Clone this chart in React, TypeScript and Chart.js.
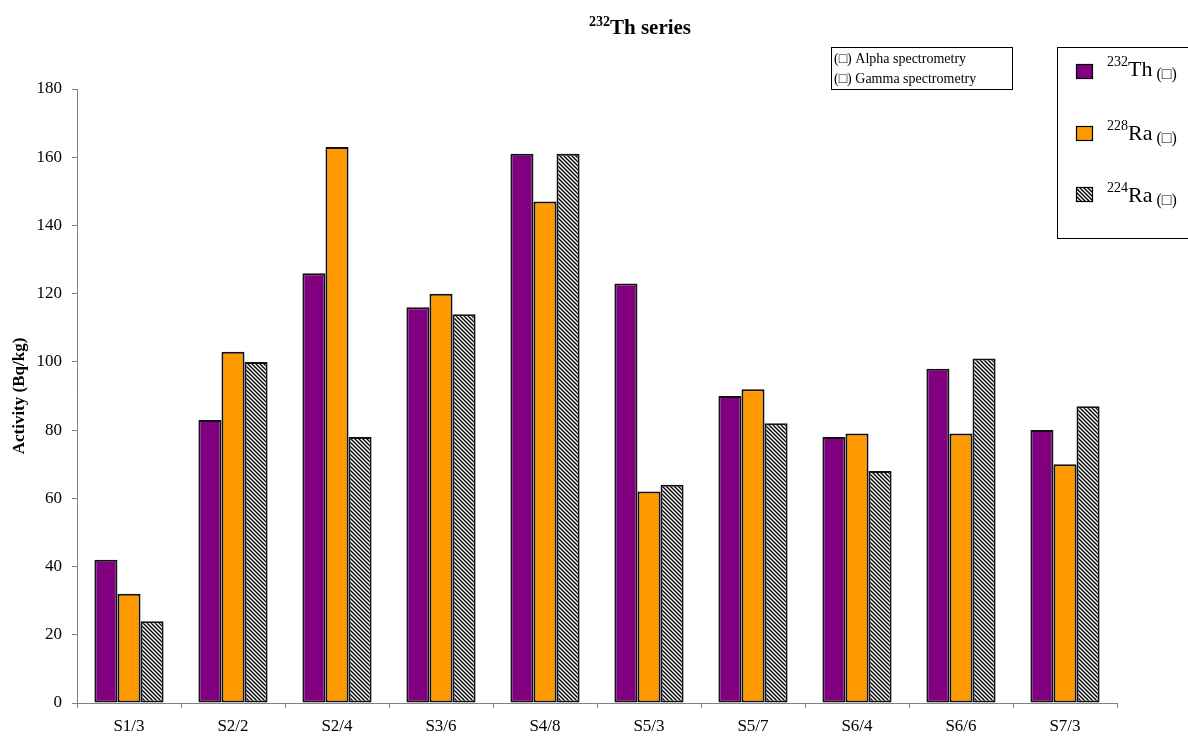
import React, { useEffect, useRef } from "react";
import { Chart, registerables } from "chart.js";

Chart.register(...registerables);

const categories = ["S1/3", "S2/2", "S2/4", "S3/6", "S4/8", "S5/3", "S5/7", "S6/4", "S6/6", "S7/3"];
const th232 = [42, 83, 126, 116, 161, 123, 90, 78, 98, 80];
const ra228 = [32, 103, 163, 120, 147, 62, 92, 79, 79, 70];
const ra224 = [24, 100, 78, 114, 161, 64, 82, 68, 101, 87];
const yTicks = [0, 20, 40, 60, 80, 100, 120, 140, 160, 180];

const SERIF = "'Liberation Serif', 'Times New Roman', serif";

function makePattern(): CanvasPattern | string {
  const c = document.createElement("canvas");
  c.width = 4;
  c.height = 4;
  const g = c.getContext("2d");
  if (!g) return "#777";
  g.fillStyle = "#ffffff";
  g.fillRect(0, 0, 4, 4);
  g.strokeStyle = "#000000";
  g.lineWidth = 1.4;
  g.beginPath();
  g.moveTo(-1, -1);
  g.lineTo(5, 5);
  g.moveTo(-1, 3);
  g.lineTo(1, 5);
  g.moveTo(3, -1);
  g.lineTo(5, 1);
  g.stroke();
  const p = g.createPattern(c, "repeat");
  return p || "#777";
}

export default function App() {
  const ref = useRef<HTMLCanvasElement>(null);
  useEffect(() => {
    if (!ref.current) return;
    const hatch = makePattern();
    const purple = "#800080";
    const orange = "#FF9900";

    const overlay = {
      id: "overlay",
      afterDraw(chart: any) {
        const ctx = chart.ctx as CanvasRenderingContext2D;
        ctx.save();
        // Title
        ctx.fillStyle = "#000";
        ctx.textBaseline = "alphabetic";
        ctx.textAlign = "left";
        const sup = "232";
        const main = "Th series";
        ctx.font = `bold 14px ${SERIF}`;
        const sw = ctx.measureText(sup).width;
        ctx.font = `bold 21px ${SERIF}`;
        const mw = ctx.measureText(main).width;
        const tx = 640 - (sw + mw) / 2;
        ctx.font = `bold 14px ${SERIF}`;
        ctx.fillText(sup, tx, 26);
        ctx.font = `bold 21px ${SERIF}`;
        ctx.fillText(main, tx + sw, 34);

        // Y axis title
        ctx.save();
        ctx.translate(20, 396);
        ctx.rotate(-Math.PI / 2);
        ctx.textAlign = "center";
        ctx.textBaseline = "middle";
        ctx.font = `bold 17px ${SERIF}`;
        ctx.fillText("Activity (Bq/kg)", 0, 0);
        ctx.restore();

        // Method legend box
        ctx.strokeStyle = "#000";
        ctx.lineWidth = 1;
        ctx.strokeRect(831.5, 47.5, 181, 42);
        ctx.font = `14px ${SERIF}`;
        ctx.textAlign = "left";
        ctx.textBaseline = "middle";
        ctx.fillText("(\u25A1) Alpha spectrometry", 834, 59);
        ctx.fillText("(\u25A1) Gamma spectrometry", 834, 79);

        // Series legend box
        ctx.strokeRect(1057.5, 47.5, 140, 191);
        const items = [
          { fill: purple as any, sup: "232", name: "Th", sy: 64, base: 76 },
          { fill: orange as any, sup: "228", name: "Ra", sy: 126, base: 140 },
          { fill: hatch as any, sup: "224", name: "Ra", sy: 187, base: 202 },
        ];
        items.forEach((it) => {
          ctx.fillStyle = it.fill;
          ctx.fillRect(1076, it.sy, 17, 15);
          ctx.strokeStyle = "#000";
          ctx.lineWidth = 1.2;
          ctx.strokeRect(1076.5, it.sy + 0.5, 16, 14);
          ctx.fillStyle = "#000";
          ctx.textBaseline = "alphabetic";
          ctx.font = `14px ${SERIF}`;
          const s = ctx.measureText(it.sup).width;
          ctx.fillText(it.sup, 1107, it.base - 10);
          ctx.font = `22px ${SERIF}`;
          const n = ctx.measureText(it.name).width;
          ctx.fillText(it.name, 1107 + s, it.base);
          ctx.font = `16px ${SERIF}`;
          ctx.fillText("(\u25A1)", 1107 + s + n + 4, it.base + 3);
        });
        ctx.restore();
      },
    };

    const chart = new Chart(ref.current, {
      type: "bar",
      data: {
        labels: categories,
        datasets: [
          { label: "232Th", data: th232, backgroundColor: purple, borderColor: "#111", borderWidth: 2, borderSkipped: false },
          { label: "228Ra", data: ra228, backgroundColor: orange, borderColor: "#111", borderWidth: 2, borderSkipped: false },
          { label: "224Ra", data: ra224, backgroundColor: hatch as any, borderColor: "#111", borderWidth: 2, borderSkipped: false },
        ],
      },
      options: {
        animation: false,
        responsive: false,
        maintainAspectRatio: false,
        layout: { padding: { left: 0, top: 89, right: 71, bottom: 0 } },
        datasets: { bar: { categoryPercentage: 0.665, barPercentage: 1 } },
        plugins: { legend: { display: false }, title: { display: false }, tooltip: { enabled: false } },
        scales: {
          x: {
            grid: { drawOnChartArea: false, drawTicks: true, tickLength: 5, color: "#808080", offset: true },
            border: { display: true, color: "#808080", width: 1 },
            ticks: { color: "#000", font: { family: SERIF, size: 17 }, padding: 8, maxRotation: 0 },
            afterFit: (s: any) => {
              s.height = 34;
            },
          },
          y: {
            min: 0,
            max: 180,
            afterBuildTicks: (s: any) => {
              s.ticks = yTicks.map((v) => ({ value: v }));
            },
            grid: { drawOnChartArea: false, drawTicks: true, tickLength: 5, color: "#808080" },
            border: { display: true, color: "#808080", width: 1 },
            ticks: { color: "#000", font: { family: SERIF, size: 17 }, padding: 10 },
            afterFit: (s: any) => {
              s.width = 77;
            },
          },
        },
      },
      plugins: [overlay],
    });
    return () => chart.destroy();
  }, []);
  return (
    <div style={{ position: "fixed", left: 0, top: 0, width: 1188, height: 737, background: "#fff" }}>
      <canvas ref={ref} width={1188} height={737} style={{ width: 1188, height: 737, display: "block" }} />
    </div>
  );
}
